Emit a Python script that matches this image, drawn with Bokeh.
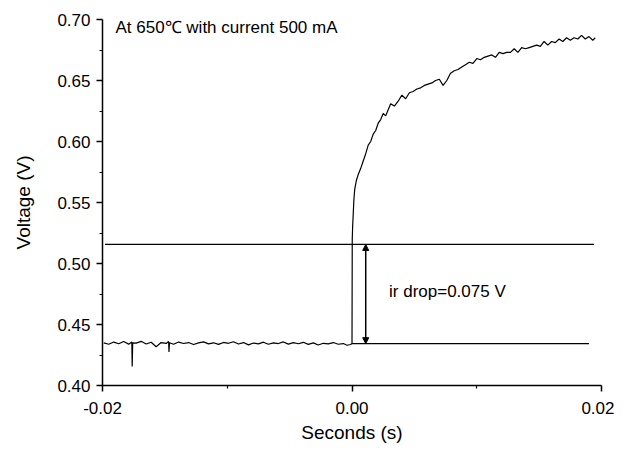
from bokeh.plotting import figure
from bokeh.models import Range1d, FixedTicker, NumeralTickFormatter, Arrow, NormalHead, Label
from bokeh.embed import file_html
from bokeh.resources import INLINE

# ---- data ----
base_t = [-0.0199, -0.0195, -0.0191, -0.0187, -0.0183, -0.0179, -0.01765, -0.01762, -0.01758,
          -0.0173, -0.0169, -0.0165, -0.0161, -0.0157, -0.0153, -0.0149, -0.0147, -0.01467,
          -0.01463, -0.0143, -0.0139, -0.0135, -0.0131, -0.0127, -0.0123, -0.0119, -0.0115,
          -0.0111, -0.0107, -0.0103, -0.0099, -0.0095, -0.0091, -0.0087, -0.0083, -0.0079,
          -0.0075, -0.0071, -0.0067, -0.0063, -0.0059, -0.0055, -0.0051, -0.0047, -0.0043,
          -0.0039, -0.0035, -0.0031, -0.0027, -0.0023, -0.0019, -0.0015, -0.0011, -0.0007,
          -0.0004, -0.0001, 0.0]
base_v = [0.4350, 0.4338, 0.4356, 0.4342, 0.4361, 0.4339, 0.4356, 0.4156, 0.4350,
          0.4347, 0.4362, 0.4340, 0.4355, 0.4318, 0.4352, 0.4345, 0.4360, 0.4274,
          0.4350, 0.4338, 0.4356, 0.4344, 0.4352, 0.4336, 0.4349, 0.4358, 0.4341,
          0.4350, 0.4337, 0.4353, 0.4346, 0.4359, 0.4340, 0.4352, 0.4333, 0.4348,
          0.4341, 0.4355, 0.4338, 0.4350, 0.4344, 0.4357, 0.4339, 0.4351, 0.4342,
          0.4354, 0.4337, 0.4349, 0.4332, 0.4346, 0.4341, 0.4352, 0.4338, 0.4344,
          0.4330, 0.4336, 0.4345]

rise_t = [0.00002, 0.00005, 0.00010, 0.00015, 0.00022, 0.00035, 0.00050, 0.00070, 0.00090,
          0.00110, 0.00130, 0.00150, 0.00170, 0.00190, 0.00210, 0.00230, 0.00250, 0.00270,
          0.00290, 0.00310, 0.00340, 0.00370, 0.00400, 0.00430, 0.00460, 0.00490, 0.00520,
          0.00550, 0.00580, 0.00610, 0.00640, 0.00670, 0.00700, 0.00730, 0.00760, 0.00790,
          0.00820, 0.00850, 0.00880, 0.00910, 0.00940, 0.00970, 0.01000, 0.01030, 0.01060,
          0.01090, 0.01120, 0.01150, 0.01180, 0.01210, 0.01240, 0.01270, 0.01300, 0.01330,
          0.01360, 0.01390, 0.01420, 0.01450, 0.01480, 0.01510, 0.01540, 0.01570, 0.01600,
          0.01630, 0.01660, 0.01690, 0.01720, 0.01750, 0.01780, 0.01810, 0.01840, 0.01870,
          0.01900, 0.01930, 0.01950]
rise_v = [0.520, 0.530, 0.541, 0.552, 0.561, 0.568, 0.573, 0.578, 0.584,
          0.590, 0.597, 0.600, 0.606, 0.609, 0.615, 0.618, 0.623, 0.621,
          0.626, 0.631, 0.629, 0.633, 0.638, 0.635, 0.640, 0.641, 0.643,
          0.644, 0.646, 0.647, 0.648, 0.650, 0.651, 0.646, 0.650, 0.656,
          0.658, 0.659, 0.661, 0.663, 0.665, 0.664, 0.668, 0.667, 0.669,
          0.670, 0.671, 0.669, 0.673, 0.672, 0.673, 0.673, 0.676, 0.673,
          0.677, 0.676, 0.677, 0.678, 0.679, 0.678, 0.682, 0.679, 0.682,
          0.681, 0.684, 0.682, 0.685, 0.683, 0.685, 0.684, 0.687, 0.684,
          0.686, 0.683, 0.685]

upper_level = 0.5156
lower_level = 0.4343
upper_span = [-0.0198, 0.0194]
lower_span = [0.0, 0.0190]
arrow_t = 0.0011

x_major = [-0.02, 0.0, 0.02]
x_minor = [-0.01, 0.01]
y_major = [0.40, 0.45, 0.50, 0.55, 0.60, 0.65, 0.70]
y_minor = [0.425, 0.475, 0.525, 0.575, 0.625, 0.675]

title_text = "At 650\u2103 with current 500 mA"
drop_text = "ir drop=0.075 V"
x_title = "Seconds (s)"
y_title = "Voltage (V)"

FONT = "Liberation Sans"

p = figure(width=614, height=445, output_backend="svg", toolbar_location=None,
           x_range=Range1d(-0.02, 0.02), y_range=Range1d(0.40, 0.70),
           min_border_left=102, min_border_top=19, min_border_right=13, min_border_bottom=57)
p.outline_line_color = None
p.grid.visible = False
p.background_fill_color = "white"

t_all = base_t + rise_t
v_all = base_v + rise_v
p.line(t_all, v_all, line_color="black", line_width=1.2)

p.line(upper_span, [upper_level, upper_level], line_color="black", line_width=1.2)
p.line(lower_span, [lower_level, lower_level], line_color="black", line_width=1.2)

p.add_layout(Arrow(x_start=arrow_t, y_start=lower_level, x_end=arrow_t, y_end=upper_level,
                   line_color="black", line_width=1.5,
                   start=NormalHead(size=6, fill_color="black", line_color="black"),
                   end=NormalHead(size=6, fill_color="black", line_color="black")))

p.add_layout(Label(x=-0.01896, y=0.6935, text=title_text, text_font=FONT,
                   text_font_size="17px", text_baseline="middle", text_color="black"))
p.add_layout(Label(x=0.00297, y=0.4767, text=drop_text, text_font=FONT,
                   text_font_size="17px", text_baseline="middle", text_color="black"))

for ax in (p.xaxis[0], p.yaxis[0]):
    ax.axis_line_color = "black"
    ax.axis_line_width = 1.5
    ax.major_tick_line_color = "black"
    ax.major_tick_line_width = 1.5
    ax.minor_tick_line_color = "black"
    ax.minor_tick_line_width = 1.2
    ax.major_tick_out = 6
    ax.major_tick_in = 0
    ax.minor_tick_out = 3
    ax.minor_tick_in = 0
    ax.major_label_text_font = FONT
    ax.major_label_text_font_size = "17px"
    ax.major_label_text_color = "black"
    ax.axis_label_text_font = FONT
    ax.axis_label_text_font_size = "19px"
    ax.axis_label_text_font_style = "normal"
    ax.axis_label_text_color = "black"
    ax.formatter = NumeralTickFormatter(format="0.00")

p.xaxis[0].ticker = FixedTicker(ticks=x_major, minor_ticks=x_minor)
p.yaxis[0].ticker = FixedTicker(ticks=y_major, minor_ticks=y_minor)
p.xaxis[0].axis_label = x_title
p.yaxis[0].axis_label = y_title
p.xaxis[0].major_label_standoff = 10
p.xaxis[0].axis_label_standoff = 5
p.yaxis[0].major_label_standoff = 6
p.yaxis[0].axis_label_standoff = 20

open("out.html", "w").write(file_html(p, INLINE))
